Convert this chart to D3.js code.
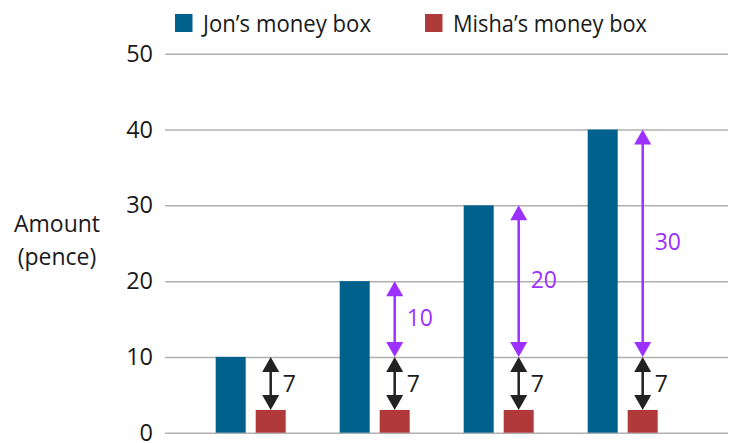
<!DOCTYPE html>
<html>
<head>
<meta charset="utf-8">
<script src="https://cdn.jsdelivr.net/npm/d3@7"></script>
<style>
  html, body { margin: 0; padding: 0; background: #fff; }
  svg { display: block; font-family: "Open Sans", "Noto Sans", sans-serif; }
</style>
</head>
<body>
<svg id="chart" width="735" height="443"></svg>
<script>
// Money box amounts (pence) for each of the four occasions
const categories = ["1", "2", "3", "4"];
const seriesNames = ["Jon’s money box", "Misha’s money box"];
const jon = [10, 20, 30, 40];
const misha = [3, 3, 3, 3];
const yTicks = [0, 10, 20, 30, 40, 50];
// Black arrows: Misha's amount up to Jon's starting amount
const gapTo = [10, 10, 10, 10];
// Purple arrows: Jon's starting amount up to Jon's current amount
const growthFrom = [10, 10, 10, 10];

const colors = { jon: "#00628c", misha: "#b03a3a", grid: "#b0b0b0", black: "#222222", purple: "#9b30ff" };

const svg = d3.select("#chart");

const y = d3.scaleLinear().domain([0, 50]).range([432.7, 53.8]);
const x0 = d3.scaleBand().domain(categories).range([188.7, 684.7]).padding(0);
const x1 = d3.scaleBand().domain(seriesNames).range([x0.bandwidth() / 2 - 35, x0.bandwidth() / 2 + 35]).paddingInner(0.25);

const gridLeft = 165, gridRight = 728;

// Horizontal gridlines and value labels
const yAxis = d3.axisLeft(y).tickValues(yTicks).tickSize(-(gridRight - gridLeft)).tickPadding(12).tickFormat(d3.format("d"));
const gAxis = svg.append("g").attr("transform", `translate(${gridLeft},0)`).call(yAxis);
gAxis.select(".domain").remove();
gAxis.selectAll(".tick line").attr("stroke", colors.grid).attr("stroke-width", 1.5);
gAxis.selectAll(".tick text").attr("fill", "#1a1a1a").attr("font-size", 23.5).attr("font-family", "'Open Sans', sans-serif");

// Axis title
const title = svg.append("text").attr("text-anchor", "middle").attr("font-size", 23).attr("fill", "#1a1a1a");
title.append("tspan").attr("x", 57).attr("y", 232).text("Amount");
title.append("tspan").attr("x", 57).attr("y", 265).text("(pence)");

// Bars
const groups = svg.append("g").selectAll("g").data(categories).join("g")
  .attr("transform", d => `translate(${x0(d)},0)`);

groups.append("rect")
  .attr("x", x1(seriesNames[0])).attr("width", x1.bandwidth())
  .attr("y", (d, i) => y(jon[i])).attr("height", (d, i) => y(0) - y(jon[i]))
  .attr("fill", colors.jon);

groups.append("rect")
  .attr("x", x1(seriesNames[1])).attr("width", x1.bandwidth())
  .attr("y", (d, i) => y(misha[i])).attr("height", (d, i) => y(0) - y(misha[i]))
  .attr("fill", colors.misha);

// Double-headed arrow between two values at horizontal position cx
function arrow(g, cx, v1, v2, color) {
  const yTop = y(Math.max(v1, v2)), yBot = y(Math.min(v1, v2));
  const hl = 15, hw = 8.5;
  g.append("line").attr("x1", cx).attr("x2", cx).attr("y1", yTop + hl - 1).attr("y2", yBot - hl + 1)
    .attr("stroke", color).attr("stroke-width", 2.5);
  g.append("path").attr("d", `M${cx},${yTop}L${cx - hw},${yTop + hl}L${cx + hw},${yTop + hl}Z`).attr("fill", color);
  g.append("path").attr("d", `M${cx},${yBot}L${cx - hw},${yBot - hl}L${cx + hw},${yBot - hl}Z`).attr("fill", color);
}

groups.each(function (d, i) {
  const g = d3.select(this);
  const cx = x1(seriesNames[1]) + x1.bandwidth() / 2;
  arrow(g, cx, misha[i], gapTo[i], colors.black);
  g.append("text").attr("x", cx + 12).attr("y", (y(misha[i]) + y(gapTo[i])) / 2 + 2)
    .attr("dominant-baseline", "middle").attr("font-size", 23).attr("fill", "#1a1a1a")
    .text(gapTo[i] - misha[i]);
  if (jon[i] > growthFrom[i]) {
    arrow(g, cx, growthFrom[i], jon[i], colors.purple);
    g.append("text").attr("x", cx + 12).attr("y", (y(growthFrom[i]) + y(jon[i])) / 2 + 1)
      .attr("dominant-baseline", "middle").attr("font-size", 23).attr("fill", colors.purple)
      .text(jon[i] - growthFrom[i]);
  }
});

// Legend
const legendItems = [
  { name: seriesNames[0], color: colors.jon, x: 175, w: 168 },
  { name: seriesNames[1], color: colors.misha, x: 425, w: 194 }
];
const lg = svg.append("g").selectAll("g").data(legendItems).join("g")
  .attr("transform", d => `translate(${d.x},14)`);
lg.append("rect").attr("width", 17.5).attr("height", 18).attr("fill", d => d.color);
lg.append("text").attr("x", 28).attr("y", 18).attr("font-size", 24.5).attr("fill", "#1a1a1a")
  .attr("textLength", d => d.w).attr("lengthAdjust", "spacingAndGlyphs")
  .text(d => d.name);
</script>
</body>
</html>
